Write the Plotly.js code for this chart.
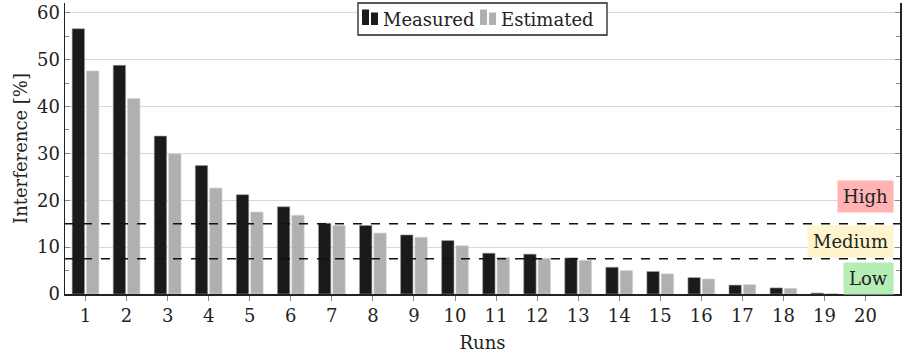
<!DOCTYPE html>
<html>
<head>
<meta charset="utf-8">
<script src="https://cdn.plot.ly/plotly-3.0.1.min.js"></script>
<style>html,body{margin:0;padding:0;background:#fff;}#chart{width:905px;height:356px;}</style>
</head>
<body>
<div id="chart"></div>
<script>
const runs = [1,2,3,4,5,6,7,8,9,10,11,12,13,14,15,16,17,18,19,20];
const measured = [56.6,48.8,33.7,27.4,21.2,18.6,15.1,14.6,12.6,11.4,8.7,8.5,7.7,5.7,4.8,3.5,1.9,1.3,0.2,0];
const estimated = [47.6,41.7,29.9,22.6,17.5,16.8,14.6,13.0,12.1,10.3,7.8,7.6,7.2,5.0,4.3,3.2,2.0,1.2,0.1,0];
const seriesNames = ['Measured','Estimated'];
const seriesColors = ['#1a1a1a','#b0b0b0'];
const thresholds = [15, 7.5];
const levelLabels = ['High','Medium','Low'];
const levelY = [20.8, 11.2, 3.4];
const levelColors = ['#ffb3b3','#fff5cc','#b5eeb5'];

const FONT = 'DejaVu Serif';
const FS = 18;

// plot area in pixels (for placing the hand-drawn legend)
const M = {l:65, r:5, t:3, b:62};
const W = 905, H = 356;
const PW = W - M.l - M.r, PH = H - M.t - M.b;
const px = v => (v - M.l) / PW;
const py = v => (H - M.b - v) / PH;

const traces = [
  {type:'bar', name:seriesNames[0], x:runs, y:measured, showlegend:false,
   marker:{color:seriesColors[0], line:{color:'#9a9a9a', width:0.6}}},
  {type:'bar', name:seriesNames[1], x:runs, y:estimated, showlegend:false,
   marker:{color:seriesColors[1], line:{color:'#d0d0d0', width:0.6}}}
];

const shapes = thresholds.map(t => ({
  type:'line', xref:'paper', x0:0, x1:1, yref:'y', y0:t, y1:t,
  line:{color:'#111', width:1.5, dash:'dash'}, layer:'above'
}));

// legend box
shapes.push({type:'rect', xref:'paper', yref:'paper', x0:px(358), x1:px(607), y0:py(35), y1:py(3),
  fillcolor:'#fff', line:{color:'#222', width:1.3}, layer:'above'});
// legend symbols (two small bars per entry)
const symX = [362, 480];
const textX = [381, 499];
symX.forEach((sx, i) => {
  shapes.push({type:'rect', xref:'paper', yref:'paper', x0:px(sx), x1:px(sx+7), y0:py(25), y1:py(9.5),
    fillcolor:seriesColors[i], line:{width:0}, layer:'above'});
  shapes.push({type:'rect', xref:'paper', yref:'paper', x0:px(sx+9), x1:px(sx+16), y0:py(25), y1:py(12.5),
    fillcolor:seriesColors[i], line:{width:0}, layer:'above'});
});

const annotations = levelLabels.map((l,i) => ({
  xref:'paper', x:0.993, xanchor:'right', yref:'y', y:levelY[i], yanchor:'middle',
  text:l, showarrow:false, bgcolor:levelColors[i], borderpad:5,
  font:{family:FONT, size:FS, color:'#222'}
}));
seriesNames.forEach((n, i) => {
  annotations.push({xref:'paper', yref:'paper', x:px(textX[i]), y:py(19), xanchor:'left', yanchor:'middle',
    text:n, showarrow:false, font:{family:FONT, size:FS, color:'#222'}});
});

const layout = {
  width:W, height:H,
  margin:M,
  paper_bgcolor:'#fff', plot_bgcolor:'#fff',
  font:{family:FONT, size:FS, color:'#222'},
  barmode:'group', bargap:0.3, bargroupgap:0.14,
  showlegend:false,
  xaxis:{range:[0.5,20.84], tickmode:'array', tickvals:runs, ticktext:runs.map(String),
         ticks:'outside', ticklen:5, tickcolor:'#888', showgrid:false,
         showline:true, linecolor:'#222', linewidth:1.5, zeroline:false,
         title:{text:'Runs', font:{family:FONT, size:FS, color:'#222'}, standoff:11},
         tickfont:{family:FONT, size:FS, color:'#222'}},
  yaxis:{range:[0,62.1], dtick:10, tick0:0, ticks:'inside', ticklen:5, tickcolor:'#888',
         showgrid:true, gridcolor:'#d8d8d8', gridwidth:1,
         showline:true, linecolor:'#222', linewidth:1.5, mirror:'ticks', zeroline:false,
         minor:{dtick:5, ticks:'inside', ticklen:4, tickcolor:'#888', showgrid:false},
         title:{text:'Interference [%]', font:{family:FONT, size:FS, color:'#222'}, standoff:4},
         tickfont:{family:FONT, size:FS, color:'#222'}},
  shapes:shapes,
  annotations:annotations
};

Plotly.newPlot('chart', traces, layout, {displayModeBar:false, staticPlot:true});
</script>
</body>
</html>
